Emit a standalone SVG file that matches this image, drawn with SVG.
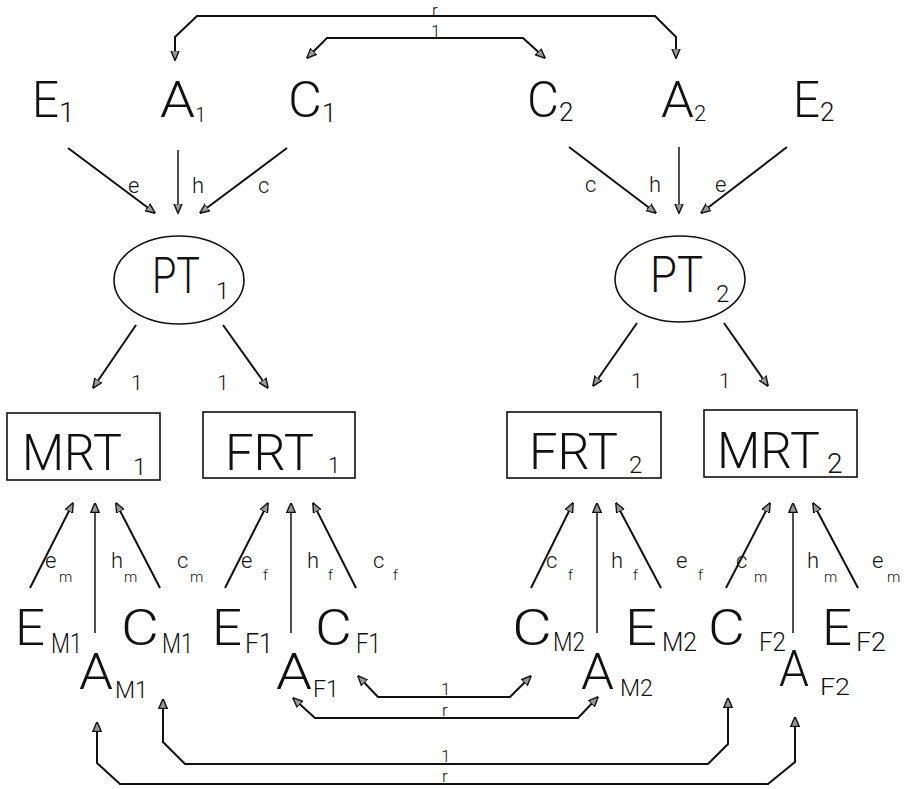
<svg xmlns="http://www.w3.org/2000/svg" width="906" height="789" viewBox="0 0 906 789">
  <style>
    text { font-family: Roboto, "Liberation Sans", Arial, sans-serif; font-weight: 300; fill: #111; }
    .big { font-size: 50px; }
    .lbl { font-size: 22px; }
    .sub { font-size: 15px; }
    .one { font-size: 21px; }
    .cov { font-size: 17px; }
    .ln { fill: none; stroke: #111; stroke-width: 2; }
    .vt { fill: none; stroke: #222; stroke-width: 1.6; }
    .arw { marker-end: url(#head); }
    .two { marker-start: url(#head); marker-end: url(#head); }
    .shape { fill: #fff; stroke: #111; stroke-width: 1.6; }
  </style>
  <defs>
    <marker id="head" viewBox="0 0 10 10" refX="9.5" refY="5" markerWidth="10" markerHeight="10" markerUnits="userSpaceOnUse" orient="auto-start-reverse">
      <path d="M0,0.8 L10,5 L0,9.2 Z" fill="#999" stroke="#111" stroke-width="1.4"/>
    </marker>
  </defs>

  <rect width="906" height="789" fill="#fff"/>

  <!-- connectors -->
  <g id="connectors">
    <!-- twin-level latent correlations -->
    <path class="ln two" d="M175,60 L175,37 L197,16 L655,16 L676,37 L676,58"/>
    <path class="ln two" d="M307,58 L327,38 L523,38 L545,58"/>
    <!-- paths into PT1 -->
    <path class="ln arw" d="M68,148 L155,213"/>
    <path class="vt arw" d="M178,150 L178,213"/>
    <path class="ln arw" d="M287,148 L200,213"/>
    <!-- paths into PT2 -->
    <path class="ln arw" d="M569,147 L656,213"/>
    <path class="vt arw" d="M679,147 L679,213"/>
    <path class="ln arw" d="M787,147 L701,213"/>
    <!-- PT loadings -->
    <path class="ln arw" d="M136,325 L93,388"/>
    <path class="ln arw" d="M223,325 L268,388"/>
    <path class="ln arw" d="M637,323 L593,386"/>
    <path class="ln arw" d="M724,323 L768,386"/>
    <!-- residual paths into rater scores -->
    <path class="ln arw" d="M30,588 L73,503"/>
    <path class="vt arw" d="M95,633 L95,503"/>
    <path class="ln arw" d="M160,588 L116,503"/>
    <path class="ln arw" d="M225,588 L268,503"/>
    <path class="vt arw" d="M291,633 L291,503"/>
    <path class="ln arw" d="M356,588 L313,503"/>
    <path class="ln arw" d="M531,588 L573,503"/>
    <path class="vt arw" d="M597,633 L597,503"/>
    <path class="ln arw" d="M661,588 L616,503"/>
    <path class="ln arw" d="M726,588 L770,503"/>
    <path class="vt arw" d="M793,633 L793,503"/>
    <path class="ln arw" d="M858,588 L813,503"/>
    <!-- rater-specific correlations -->
    <path class="ln two" d="M358,676 L378,697 L510,697 L531,676"/>
    <path class="ln two" d="M293,698 L315,718 L578,718 L598,697"/>
    <path class="ln two" d="M163,699 L163,742 L185,764 L708,764 L728,744 L728,698"/>
    <path class="ln two" d="M97,722 L97,763 L120,784 L768,784 L795,762 L795,717"/>

    <!-- path labels -->
    <text class="cov" x="432" y="16">r</text>
    <text class="cov" x="431" y="37">1</text>
    <text class="lbl" x="128" y="193">e</text>
    <text class="lbl" x="192" y="193">h</text>
    <text class="lbl" x="258" y="193">c</text>
    <text class="lbl" x="585" y="192">c</text>
    <text class="lbl" x="649" y="192">h</text>
    <text class="lbl" x="715" y="192">e</text>
    <text class="one" x="131" y="390">1</text>
    <text class="one" x="217" y="390">1</text>
    <text class="one" x="631" y="388">1</text>
    <text class="one" x="719" y="388">1</text>

    <text class="lbl" x="45" y="568">e</text><text class="sub" x="59" y="582">m</text>
    <text class="lbl" x="111" y="568">h</text><text class="sub" x="124" y="582">m</text>
    <text class="lbl" x="177" y="568">c</text><text class="sub" x="190" y="582">m</text>
    <text class="lbl" x="241" y="568">e</text><text class="sub" x="263" y="580">f</text>
    <text class="lbl" x="307" y="568">h</text><text class="sub" x="328" y="580">f</text>
    <text class="lbl" x="373" y="568">c</text><text class="sub" x="393" y="580">f</text>
    <text class="lbl" x="546" y="568">c</text><text class="sub" x="568" y="580">f</text>
    <text class="lbl" x="611" y="568">h</text><text class="sub" x="633" y="580">f</text>
    <text class="lbl" x="676" y="568">e</text><text class="sub" x="698" y="580">f</text>
    <text class="lbl" x="736" y="568">c</text><text class="sub" x="754" y="582">m</text>
    <text class="lbl" x="807" y="568">h</text><text class="sub" x="824" y="582">m</text>
    <text class="lbl" x="872" y="568">e</text><text class="sub" x="887" y="582">m</text>

    <text class="cov" x="441" y="695">1</text>
    <text class="cov" x="442" y="716">r</text>
    <text class="cov" x="441" y="762">1</text>
    <text class="cov" x="442" y="782">r</text>
  </g>

  <!-- twin 1 latent factors -->
  <g id="E1"><text class="big" x="32" y="117" textLength="27" lengthAdjust="spacingAndGlyphs">E</text><text x="59" y="122" font-size="28">1</text></g>
  <g id="A1"><text class="big" x="160" y="117" textLength="35" lengthAdjust="spacingAndGlyphs">A</text><text x="195" y="122" font-size="20">1</text></g>
  <g id="C1"><text class="big" x="288" y="117" textLength="34" lengthAdjust="spacingAndGlyphs">C</text><text x="322" y="122" font-size="26">1</text></g>
  <!-- twin 2 latent factors -->
  <g id="C2"><text class="big" x="527" y="117" textLength="32" lengthAdjust="spacingAndGlyphs">C</text><text x="559" y="121" font-size="26">2</text></g>
  <g id="A2"><text class="big" x="661" y="117" textLength="33" lengthAdjust="spacingAndGlyphs">A</text><text x="694" y="121" font-size="22">2</text></g>
  <g id="E2"><text class="big" x="793" y="117" textLength="27" lengthAdjust="spacingAndGlyphs">E</text><text x="820" y="121" font-size="26">2</text></g>

  <!-- true trait factors -->
  <g id="PT1">
    <ellipse class="shape" cx="179" cy="280" rx="65" ry="44"/>
    <text class="big" x="152" y="293" textLength="48" lengthAdjust="spacingAndGlyphs">PT</text>
    <text x="216" y="299" font-size="24">1</text>
  </g>
  <g id="PT2">
    <ellipse class="shape" cx="680" cy="279" rx="65" ry="43"/>
    <text class="big" x="650" y="292" textLength="53" lengthAdjust="spacingAndGlyphs">PT</text>
    <text x="716" y="302" font-size="24">2</text>
  </g>

  <!-- rater scores -->
  <g id="MRT1">
    <rect class="shape" x="7" y="413" width="153" height="67"/>
    <text class="big" x="22" y="470" textLength="100" lengthAdjust="spacingAndGlyphs">MRT</text>
    <text x="133" y="475" font-size="24">1</text>
  </g>
  <g id="FRT1">
    <rect class="shape" x="203" y="412" width="152" height="66"/>
    <text class="big" x="225" y="470" textLength="89" lengthAdjust="spacingAndGlyphs">FRT</text>
    <text x="328" y="473" font-size="22">1</text>
  </g>
  <g id="FRT2">
    <rect class="shape" x="507" y="412" width="154" height="66"/>
    <text class="big" x="529" y="469" textLength="89" lengthAdjust="spacingAndGlyphs">FRT</text>
    <text x="629" y="473" font-size="24">2</text>
  </g>
  <g id="MRT2">
    <rect class="shape" x="704" y="410" width="153" height="67"/>
    <text class="big" x="717" y="468" textLength="103" lengthAdjust="spacingAndGlyphs">MRT</text>
    <text x="827" y="473" font-size="28">2</text>
  </g>

  <!-- rater-specific factors, twin 1 -->
  <g id="EM1"><text class="big" x="15" y="645" textLength="30" lengthAdjust="spacingAndGlyphs">E</text><text x="51" y="653" font-size="27" textLength="31" lengthAdjust="spacingAndGlyphs">M1</text></g>
  <g id="AM1"><text class="big" x="79" y="689" textLength="34" lengthAdjust="spacingAndGlyphs">A</text><text x="115" y="698" font-size="24" textLength="33" lengthAdjust="spacingAndGlyphs">M1</text></g>
  <g id="CM1"><text class="big" x="121" y="645" textLength="38" lengthAdjust="spacingAndGlyphs">C</text><text x="162" y="653" font-size="27" textLength="31" lengthAdjust="spacingAndGlyphs">M1</text></g>
  <g id="EF1"><text class="big" x="212" y="645" textLength="30" lengthAdjust="spacingAndGlyphs">E</text><text x="245" y="653" font-size="27" textLength="28" lengthAdjust="spacingAndGlyphs">F1</text></g>
  <g id="AF1"><text class="big" x="276" y="689" textLength="36" lengthAdjust="spacingAndGlyphs">A</text><text x="313" y="697" font-size="24" textLength="26" lengthAdjust="spacingAndGlyphs">F1</text></g>
  <g id="CF1"><text class="big" x="315" y="645" textLength="37" lengthAdjust="spacingAndGlyphs">C</text><text x="356" y="653" font-size="27" textLength="25" lengthAdjust="spacingAndGlyphs">F1</text></g>

  <!-- rater-specific factors, twin 2 -->
  <g id="CM2"><text class="big" x="512" y="645" textLength="40" lengthAdjust="spacingAndGlyphs">C</text><text x="553" y="651" font-size="25" textLength="32" lengthAdjust="spacingAndGlyphs">M2</text></g>
  <g id="AM2"><text class="big" x="581" y="689" textLength="33" lengthAdjust="spacingAndGlyphs">A</text><text x="620" y="696" font-size="24" textLength="33" lengthAdjust="spacingAndGlyphs">M2</text></g>
  <g id="EM2"><text class="big" x="625" y="645" textLength="32" lengthAdjust="spacingAndGlyphs">E</text><text x="662" y="651" font-size="25" textLength="35" lengthAdjust="spacingAndGlyphs">M2</text></g>
  <g id="CF2"><text class="big" x="708" y="645" textLength="37" lengthAdjust="spacingAndGlyphs">C</text><text x="759" y="651" font-size="25" textLength="27" lengthAdjust="spacingAndGlyphs">F2</text></g>
  <g id="AF2"><text class="big" x="779" y="686" textLength="30" lengthAdjust="spacingAndGlyphs">A</text><text x="820" y="695" font-size="24" textLength="30" lengthAdjust="spacingAndGlyphs">F2</text></g>
  <g id="EF2"><text class="big" x="822" y="645" textLength="30" lengthAdjust="spacingAndGlyphs">E</text><text x="856" y="651" font-size="25" textLength="30" lengthAdjust="spacingAndGlyphs">F2</text></g>
</svg>
